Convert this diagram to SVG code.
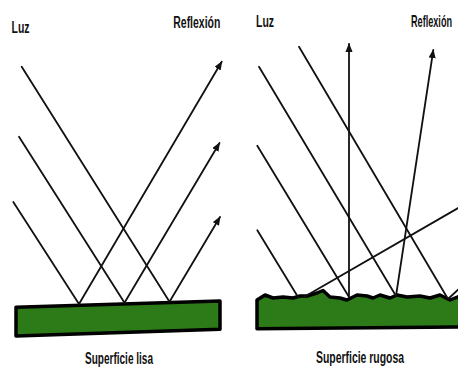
<svg xmlns="http://www.w3.org/2000/svg" width="458" height="374" viewBox="0 0 458 374">
<style>
.ray{stroke:#111;stroke-width:1.8;fill:none;stroke-linecap:round}
.arr{marker-end:url(#ah)}
.surf{fill:#2c7a18;stroke:#000;stroke-width:3.5;stroke-linejoin:round}
.lbl{font-family:"Liberation Sans",Arial,sans-serif;font-size:16px;font-weight:bold;fill:#111}
</style>
<defs>
<marker id="ah" viewBox="0 0 10 8" refX="9" refY="4" markerWidth="5" markerHeight="4" orient="auto" markerUnits="strokeWidth">
<path d="M0,0 L10,4 L0,8 z" fill="#111"/>
</marker>
</defs>
<rect width="458" height="374" fill="#fff"/>
<g id="surface-lisa">
<path class="surf" d="M16,307.3 L220,301 L220,329.3 L16,336 Z"/>
</g>
<g id="surface-rugosa">
<path class="surf" d="M257,300 L265,295 L273,298 L283,297 L293,298 L300,296 L307,296 L317,293 L323,290.5 L330,297 L340,298 L347,300 L357,295 L367,296 L373,298 L380,295 L390,298 L397,295 L407,297 L420,296 L430,298 L440,295 L450,300 L460,296 L460,327 L257,328.7 Z"/>
</g>
<g id="connectors">
<line class="ray" x1="21.7" y1="66.7" x2="169.5" y2="301.7"/>
<line class="ray" x1="19" y1="136.7" x2="124.5" y2="302.7"/>
<line class="ray" x1="13.3" y1="202" x2="79" y2="304"/>
<line class="ray arr" x1="79" y1="304" x2="221.7" y2="61.7"/>
<line class="ray arr" x1="124.5" y1="302.7" x2="219.5" y2="143"/>
<line class="ray arr" x1="169.5" y1="301.7" x2="220" y2="217"/>
<line class="ray" x1="299" y1="46.7" x2="448" y2="299"/>
<line class="ray" x1="259" y1="66.7" x2="396" y2="296"/>
<line class="ray" x1="257.3" y1="145.7" x2="349" y2="297"/>
<line class="ray" x1="257.3" y1="230.3" x2="298" y2="297"/>
<line class="ray arr" x1="349" y1="297" x2="349" y2="44"/>
<line class="ray arr" x1="396" y1="296" x2="433.3" y2="50"/>
<line class="ray" x1="304" y1="297" x2="460" y2="207"/>
<line class="ray" x1="448" y1="299" x2="460" y2="288"/>
</g>
<g id="labels">
<text class="lbl" x="11.5" y="32.7" textLength="18" lengthAdjust="spacingAndGlyphs">Luz</text>
<text class="lbl" x="173.3" y="27.5" textLength="47" lengthAdjust="spacingAndGlyphs">Reflexión</text>
<text class="lbl" x="256" y="27" textLength="18" lengthAdjust="spacingAndGlyphs">Luz</text>
<text class="lbl" transform="translate(411,27) scale(0.57,1)">Reflexión</text>
<text class="lbl" x="85" y="364.3" textLength="68" lengthAdjust="spacingAndGlyphs">Superficie lisa</text>
<text class="lbl" x="316" y="363.3" textLength="88" lengthAdjust="spacingAndGlyphs">Superficie rugosa</text>
</g>
</svg>
